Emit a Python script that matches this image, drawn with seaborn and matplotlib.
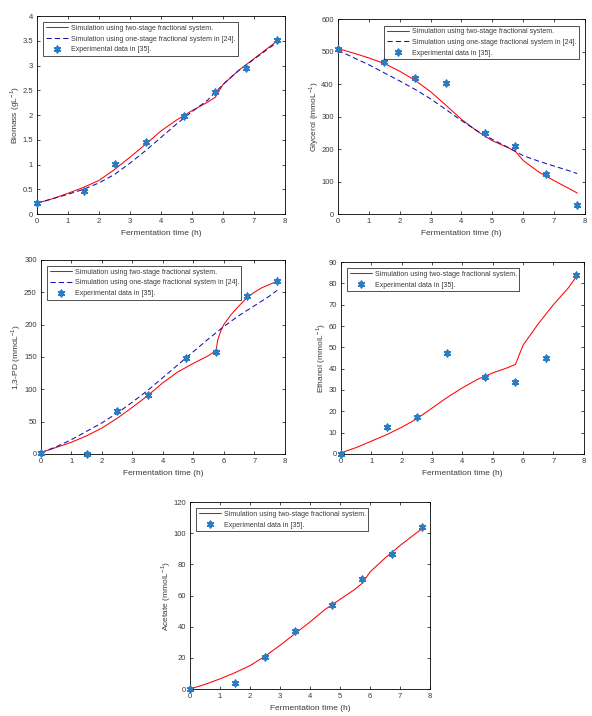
import numpy as np
import pandas as pd
import matplotlib
matplotlib.use("Agg")
import matplotlib.pyplot as plt
import seaborn as sns

# experimental sampling times
t_exp = [0, 1.5, 2.5, 3.5, 4.75, 5.75, 6.75, 7.75]

# biomass
bio_exp = [0.22, 0.46, 1.02, 1.45, 1.98, 2.47, 2.95, 3.52]
bio_t2 = [0, 0.5, 1, 1.5, 2, 2.5, 3, 3.5, 4, 4.5, 5, 5.5, 5.75, 6, 6.5, 7, 7.5, 7.75]
bio_two = [0.22, 0.31, 0.42, 0.54, 0.68, 0.9, 1.15, 1.41, 1.68, 1.9, 2.09, 2.26, 2.36, 2.62, 2.9, 3.14, 3.38, 3.5]
bio_t1 = [0, 0.5, 1, 1.5, 2, 2.5, 3, 3.5, 4, 4.5, 5, 5.5, 6, 6.5, 7, 7.5, 7.75]
bio_one = [0.22, 0.31, 0.4, 0.5, 0.63, 0.8, 1.03, 1.28, 1.55, 1.82, 2.07, 2.3, 2.62, 2.9, 3.13, 3.36, 3.47]

# glycerol
gly_exp = [510, 470, 418, 404, 251, 209, 122, 28]
gly_t2 = [0, 0.5, 1, 1.5, 2, 2.5, 3, 3.5, 4, 4.5, 5, 5.5, 5.75, 6, 6.5, 7, 7.5, 7.75]
gly_two = [510, 496, 481, 464, 440, 412, 377, 335, 292, 256, 226, 205, 193, 165, 130, 103, 78, 65]
gly_t1 = [0, 0.5, 1, 1.5, 2, 2.5, 3, 3.5, 4, 4.5, 5, 5.5, 6, 6.5, 7, 7.5, 7.75]
gly_one = [505, 482, 460, 435, 410, 384, 355, 322, 288, 257, 230, 206, 180, 163, 148, 133, 125]

# 1,3-PD
pd_exp = [1, 0, 66, 91, 148, 158, 244, 267]
pd_t2 = [0, 0.5, 1, 1.5, 2, 2.5, 3, 3.5, 4, 4.5, 5, 5.5, 5.75, 5.8, 5.9, 6, 6.25, 6.5, 6.75, 7, 7.25, 7.5, 7.75]
pd_two = [2, 10, 18, 28, 40, 55, 72, 90, 110, 127, 140, 152, 160, 176, 190, 200, 216, 229, 241, 250, 257, 262, 267]
pd_t1 = [0, 0.5, 1, 1.5, 2, 2.5, 3, 3.5, 4, 4.5, 5, 5.5, 6, 6.5, 7, 7.5, 7.75]
pd_one = [2, 11, 22, 35, 48, 63, 80, 98, 118, 138, 158, 178, 197, 214, 229, 244, 253]

# ethanol
eth_exp = [0, 12.7, 17.2, 47.5, 36.3, 33.8, 44.8, 84]
eth_t2 = [0, 0.5, 1, 1.5, 2, 2.5, 3, 3.5, 4, 4.5, 5, 5.5, 5.75, 6, 6.5, 7, 7.5, 7.75]
eth_two = [0.5, 3, 6, 9, 12.5, 16.5, 21.5, 26.5, 31, 35, 38, 40.5, 42, 51, 61, 70, 78, 83]

# acetate
ace_exp = [0, 4, 20.5, 37, 54, 70.5, 87, 104]
ace_t2 = [0, 0.5, 1, 1.5, 2, 2.5, 3, 3.5, 4, 4.5, 5, 5.5, 5.75, 6, 6.5, 7, 7.5, 7.75]
ace_two = [0, 3, 6.5, 10.5, 15, 21, 28, 35.5, 43, 51, 57.5, 64, 68, 75, 84, 92, 99.5, 103]

lab_two = "Simulation using two-stage fractional system."
lab_one = "Simulation using one-stage fractional system in [24]."
lab_exp = "Experimental data in [35]."

sns.set_style("ticks")
plt.rcParams["font.family"] = ["Liberation Sans", "DejaVu Sans"]
plt.rcParams["mathtext.fontset"] = "custom"
plt.rcParams["mathtext.rm"] = "Liberation Sans"

GRAY = "#3a3a3a"
EXP_C = "#2b7cc0"

fig = plt.figure(figsize=(5.92, 7.16), dpi=100)

panels = [
    # rect, tmain, ymain, tone, yone, exp, ylim, yticks, ylabel, legend loc
    ([0.0625, 0.701, 0.419, 0.2765], bio_t2, bio_two, bio_t1, bio_one, bio_exp,
     (0, 4), np.arange(0, 4.01, 0.5), r"Biomass (gL$^{-1}$)", "upper left"),
    ([0.571, 0.701, 0.417, 0.272], gly_t2, gly_two, gly_t1, gly_one, gly_exp,
     (0, 600), np.arange(0, 601, 100), r"Glycerol (mmoL$^{-1}$)", "upper right"),
    ([0.069, 0.366, 0.412, 0.271], pd_t2, pd_two, pd_t1, pd_one, pd_exp,
     (0, 300), np.arange(0, 301, 50), r"1,3-PD (mmoL$^{-1}$)", "upper left"),
    ([0.576, 0.366, 0.410, 0.268], eth_t2, eth_two, None, None, eth_exp,
     (0, 90), np.arange(0, 91, 10), r"Ethanol (mmolL$^{-1}$)", "upper left"),
    ([0.321, 0.0377, 0.405, 0.261], ace_t2, ace_two, None, None, ace_exp,
     (0, 120), np.arange(0, 121, 20), r"Acetate (mmolL$^{-1}$)", "upper left"),
]

for rect, t2, y2, t1, y1, yexp, ylim, yticks, ylabel, loc in panels:
    ax = fig.add_axes(rect)
    sns.lineplot(x=t2, y=y2, ax=ax, color="red", lw=0.75, sort=False,
                 estimator=None, label=lab_two)
    if t1 is not None:
        sns.lineplot(x=t1, y=y1, ax=ax, color="#1010b0", lw=0.75, sort=False,
                     estimator=None, label=lab_one, linestyle=(0, (5, 3)))
    sns.scatterplot(x=t_exp, y=yexp, ax=ax, marker=(6, 2, 0), s=20,
                    color=EXP_C, edgecolor=EXP_C, linewidth=1.3, label=lab_exp,
                    zorder=3, clip_on=False)
    ax.set_xlim(0, 8)
    ax.set_ylim(*ylim)
    ax.set_xticks(range(0, 9))
    ax.set_yticks(yticks)
    ax.set_yticklabels([f"{v:g}" for v in yticks])
    ax.tick_params(direction="in", top=True, right=True, length=2.5, width=0.5,
                   labelsize=5.5, colors="black", labelcolor=GRAY, pad=3)
    for s in ax.spines.values():
        s.set_visible(True)
        s.set_linewidth(0.6)
        s.set_color("black")
    ax.set_xlabel("Fermentation time (h)", fontsize=6, color=GRAY, labelpad=3.5)
    ax.set_ylabel(ylabel, fontsize=6, color=GRAY, labelpad=0.5)
    leg = ax.legend(loc=loc, fontsize=5, frameon=True, fancybox=False,
                    edgecolor="black", borderpad=0.35, handlelength=3.2,
                    handletextpad=0.4, labelspacing=0.55,
                    borderaxespad=0.9, scatteryoffsets=[0.5])
    leg.get_frame().set_linewidth(0.6)
    for txt in leg.get_texts():
        txt.set_color(GRAY)

fig.savefig("out.png", dpi=100, facecolor="white")
